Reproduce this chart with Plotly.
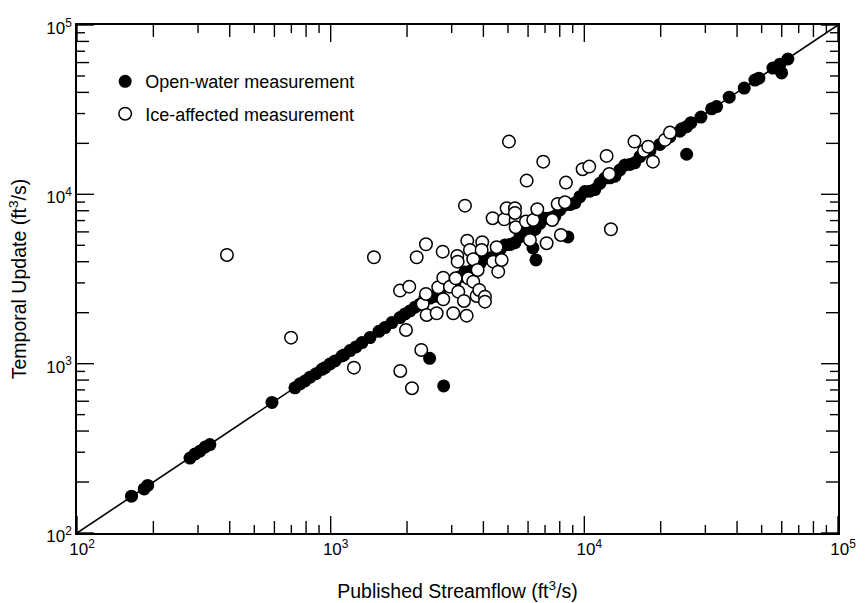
import plotly.graph_objects as go

FONT = "Liberation Sans, Arial, Helvetica, sans-serif"

# Open-water measurements (filled circles)
open_water_x = [164, 184, 190, 279, 292, 305, 320, 334, 587, 723,
                757, 792, 829, 875, 924, 949, 994, 1040, 1108, 1129,
                1192, 1258, 1329, 1429, 1550, 1637, 1744, 1876, 1963, 2055,
                2150, 2249, 2350, 2464, 2580, 2697, 2820, 2953, 3090, 3233,
                3380, 3540, 3700, 3877, 4060, 4246, 4440, 4648, 4860, 5090,
                5330, 5572, 5830, 6103, 6390, 6683, 7000, 7317, 7650, 8011,
                8380, 8770, 9180, 9608, 10050, 10520, 11000, 11520, 12050, 12617,
                13200, 13815, 14450, 15125, 15800, 16560, 17300, 18137, 19860, 21750,
                23815, 24190, 25310, 26320, 28820, 31760, 33230, 37250, 42690, 47040,
                48760, 55380, 59020, 63460,
                2455, 2789, 6446, 6273, 8615, 25310, 59950]
open_water_y = [165, 182, 191, 277, 293, 304, 322, 333, 590, 720,
                760, 790, 832, 872, 926, 947, 997, 1038, 1110, 1126,
                1195, 1255, 1332, 1425, 1553, 1633, 1748, 1871, 1967, 2050,
                2155, 2245, 2430, 2440, 2500, 2720, 2920, 2930, 3000, 3260,
                3480, 3510, 3600, 3910, 4180, 4210, 4320, 4690, 5020, 5050,
                5180, 5620, 6020, 6050, 6200, 6740, 7220, 7260, 7420, 8080,
                8650, 8700, 8900, 9690, 10380, 10440, 10670, 11620, 12450, 12520,
                12800, 13940, 14900, 15000, 15340, 16700, 17820, 18000, 19700, 21900,
                23600, 24400, 25100, 26500, 28600, 32000, 33000, 37500, 42400, 47300,
                48500, 55700, 58700, 63000,
                1076, 739, 4097, 4825, 5603, 17250, 52120]

# Ice-affected measurements (open circles)
ice_x = [390, 698, 1235, 1481, 1876, 2041, 1981, 2276, 1881, 2092,
         2183, 2375, 2305, 2375, 2390, 2617, 2656, 2779, 2779, 2764,
         2953, 3043, 3110, 3155, 3167, 3184, 3353, 3436, 3487, 3455,
         3540, 3648, 3648, 3762, 3853, 3796, 3959, 3937, 4057, 4057,
         4374, 4511, 4577, 4721, 3384, 4350, 4834, 4940, 5327, 5361,
         5361, 5886, 6290, 6524, 7472, 7850, 8385, 8087, 6103, 7102,
         5924, 6887, 5045, 8463, 9847, 10455, 12240, 12540, 12730, 15760,
         17180, 17860, 18640, 20780, 21750, 5327]
ice_y = [4385, 1424, 947, 4251, 2700, 2850, 1581, 1205, 906, 716,
         4251, 5073, 2252, 2580, 1940, 1985, 2827, 2401, 3221, 4587,
         2850, 1985, 3194, 4327, 4004, 2663, 2346, 1921, 3194, 5327,
         4694, 4136, 3051, 2511, 2725, 3577, 5213, 4694, 2487, 2324,
         4004, 4871, 3495, 4097, 8576, 7226, 7127, 8277, 8277, 7060,
         6393, 6900, 7060, 8166, 7060, 8776, 8982, 5757, 5378, 5143,
         12050, 15600, 20480, 11730, 14070, 14580, 16860, 13200, 6221, 20480,
         18040, 19130, 15600, 20960, 23150, 7765]

one_to_one = [1e2, 1e5]

decade_vals = [1e2, 1e3, 1e4, 1e5]
decade_text = ["10<sup>2</sup>", "10<sup>3</sup>", "10<sup>4</sup>", "10<sup>5</sup>"]
even_minor = [m * d for d in (1e2, 1e3, 1e4) for m in (2, 4, 6, 8)]
odd_minor = [m * d for d in (1e2, 1e3, 1e4) for m in (3, 5, 7, 9)]

fig = go.Figure()
fig.add_trace(go.Scatter(x=one_to_one, y=one_to_one, mode="lines",
                         line=dict(color="black", width=1.6), showlegend=False,
                         hoverinfo="skip"))
fig.add_trace(go.Scatter(x=open_water_x, y=open_water_y, mode="markers",
                         name="Open-water measurement", legendgroup="a",
                         marker=dict(symbol="circle", size=13, color="black")))
fig.add_trace(go.Scatter(x=ice_x, y=ice_y, mode="markers",
                         name="Ice-affected measurement", legendgroup="b",
                         marker=dict(symbol="circle", size=12.5, color="white",
                                     line=dict(width=1.5, color="black"))))

def axis(title, standoff, shift):
    return dict(type="log", range=[2, 5], showline=True, linecolor="black",
                linewidth=1.5, mirror=True, ticks="",
                showgrid=False, zeroline=False, automargin=False,
                tickvals=decade_vals, ticktext=decade_text, ticklabelshift=shift,
                tickfont=dict(size=17, family=FONT, color="black"),
                title=dict(text=title, font=dict(size=19.5, family=FONT, color="black"),
                           standoff=standoff))

W_PLOT, H_PLOT = 761, 508
tick_line = dict(color="black", width=1.4)
tick_sets = [(decade_vals, 17), (even_minor, 12), (odd_minor, 8)]
for vals, length in tick_sets:
    fx = length / W_PLOT
    fy = length / H_PLOT
    for v in vals:
        # x-axis ticks: bottom and top, drawn inward
        fig.add_shape(type="line", xref="x", yref="y domain", x0=v, x1=v,
                      y0=0, y1=fy, line=tick_line, layer="above")
        fig.add_shape(type="line", xref="x", yref="y domain", x0=v, x1=v,
                      y0=1, y1=1 - fy, line=tick_line, layer="above")
        # y-axis ticks: left and right, drawn inward
        fig.add_shape(type="line", xref="x domain", yref="y", x0=0, x1=fx,
                      y0=v, y1=v, line=tick_line, layer="above")
        fig.add_shape(type="line", xref="x domain", yref="y", x0=1, x1=1 - fx,
                      y0=v, y1=v, line=tick_line, layer="above")

fig.update_layout(
    width=865, height=603,
    margin=dict(l=77, r=27, t=25, b=70, pad=0),
    paper_bgcolor="white", plot_bgcolor="white",
    font=dict(family=FONT, size=17, color="black"),
    xaxis=axis("Published Streamflow (ft<sup>3</sup>/s)", 26, 5),
    yaxis=axis("Temporal Update (ft<sup>3</sup>/s)", 14, 3),
    legend=dict(x=0.037, y=0.925, xanchor="left", yanchor="top",
                bgcolor="rgba(0,0,0,0)", borderwidth=0,
                font=dict(size=18, family=FONT, color="black"),
                traceorder="grouped", tracegroupgap=6),
)

fig.write_html("out.html")
